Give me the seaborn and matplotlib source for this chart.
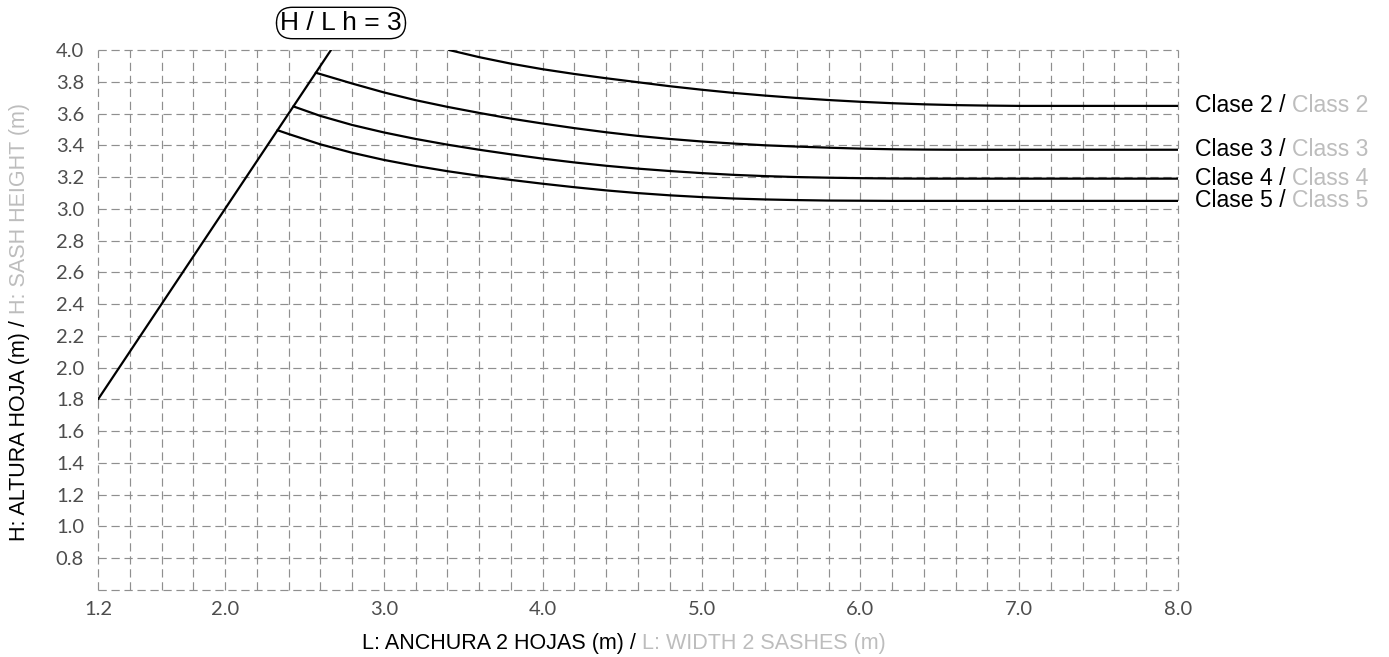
import numpy as np
import pandas as pd
import matplotlib
matplotlib.use("Agg")
import matplotlib.pyplot as plt
from matplotlib.ticker import FixedLocator, FuncFormatter
import seaborn as sns

# --- data -----------------------------------------------------------------
# H/Lh = 3 limit line
limit_L = [1.2, 2.667]
limit_H = [1.8, 4.0]

clase2_L = [3.41, 3.6, 3.8, 4.0, 4.2, 4.4, 4.6, 4.8, 5.0, 5.2, 5.4, 5.6, 5.8,
            6.0, 6.2, 6.4, 6.6, 6.8, 7.0, 8.0]
clase2_H = [4.0, 3.955, 3.914, 3.879, 3.849, 3.822, 3.797, 3.772, 3.750, 3.730,
            3.713, 3.698, 3.685, 3.674, 3.665, 3.658, 3.653, 3.650, 3.648, 3.648]

clase3_L = [2.571, 2.8, 3.0, 3.2, 3.4, 3.6, 3.8, 4.0, 4.2, 4.4, 4.6, 4.8, 5.0,
            5.2, 5.4, 5.6, 5.8, 6.0, 6.2, 6.4, 6.6, 7.0, 8.0]
clase3_H = [3.857, 3.789, 3.733, 3.684, 3.642, 3.604, 3.568, 3.537, 3.508, 3.482,
            3.459, 3.440, 3.424, 3.411, 3.400, 3.392, 3.385, 3.379, 3.375, 3.373,
            3.372, 3.372, 3.372]

clase4_L = [2.43, 2.6, 2.8, 3.0, 3.2, 3.4, 3.6, 3.8, 4.0, 4.2, 4.4, 4.6, 4.8,
            5.0, 5.2, 5.4, 5.6, 5.8, 6.0, 6.2, 6.4, 7.0, 8.0]
clase4_H = [3.645, 3.585, 3.528, 3.481, 3.440, 3.404, 3.372, 3.343, 3.316, 3.292,
            3.271, 3.253, 3.238, 3.225, 3.214, 3.206, 3.200, 3.196, 3.193, 3.191,
            3.19, 3.19, 3.19]

clase5_L = [2.33, 2.4, 2.6, 2.8, 3.0, 3.2, 3.4, 3.6, 3.8, 4.0, 4.2, 4.4, 4.6,
            4.8, 5.0, 5.2, 5.4, 5.6, 5.8, 6.0, 6.2, 7.0, 8.0]
clase5_H = [3.495, 3.471, 3.406, 3.353, 3.308, 3.270, 3.237, 3.208, 3.182, 3.158,
            3.136, 3.116, 3.099, 3.085, 3.074, 3.065, 3.059, 3.055, 3.052, 3.051,
            3.05, 3.05, 3.05]

curve_names = ["Clase 2", "Clase 3", "Clase 4", "Clase 5"]
curve_names_en = ["Class 2", "Class 3", "Class 4", "Class 5"]

x_tick_labels = [1.2, 2.0, 3.0, 4.0, 5.0, 6.0, 7.0, 8.0]
y_tick_labels = [0.8, 1.0, 1.2, 1.4, 1.6, 1.8, 2.0, 2.2, 2.4, 2.6, 2.8, 3.0,
                 3.2, 3.4, 3.6, 3.8, 4.0]

# --- long table --------------------------------------------------------------
series = {
    "limite": (limit_L, limit_H),
    "Clase 2": (clase2_L, clase2_H),
    "Clase 3": (clase3_L, clase3_H),
    "Clase 4": (clase4_L, clase4_H),
    "Clase 5": (clase5_L, clase5_H),
}
df = pd.concat(
    [pd.DataFrame({"L": l, "H": h, "serie": k}) for k, (l, h) in series.items()],
    ignore_index=True,
)

# --- figure ------------------------------------------------------------------
sns.set_theme(style="white")
plt.rcParams["font.family"] = ["Liberation Sans", "DejaVu Sans"]

fig = plt.figure(figsize=(13.89, 6.57), dpi=100)
W, Hpx = 1389, 657
ax = fig.add_axes([98 / W, 1 - 590 / Hpx, 1080 / W, 540 / Hpx])

ax.set_xlim(1.2, 8.0)
ax.set_ylim(0.6, 4.0)

# dashed grid every 0.2 in both directions (edges included, acting as frame)
grid_x = np.round(np.arange(1.2, 8.0001, 0.2), 2)
grid_y = np.round(np.arange(0.6, 4.0001, 0.2), 2)
grid_kw = dict(color="#8f8f8f", lw=0.85, ls=(0, (7, 4)), clip_on=False, zorder=1)
for gx in grid_x:
    ax.axvline(gx, **grid_kw)
for gy in grid_y:
    ax.axhline(gy, **grid_kw)

sns.lineplot(data=df, x="L", y="H", units="serie", estimator=None, sort=False,
             color="black", lw=1.6, ax=ax, legend=False, zorder=3)

ax.xaxis.set_major_locator(FixedLocator(x_tick_labels))
ax.yaxis.set_major_locator(FixedLocator(y_tick_labels))
fmt = FuncFormatter(lambda v, p: f"{v:.1f}")
ax.xaxis.set_major_formatter(fmt)
ax.yaxis.set_major_formatter(fmt)
ax.grid(False)
for s in ax.spines.values():
    s.set_visible(False)

ax.tick_params(which="both", length=0)
ax.tick_params(axis="x", pad=8, labelsize=14.5, labelcolor="#4d4d4d")
ax.tick_params(axis="y", pad=10, labelsize=14.5, labelcolor="#4d4d4d")
for lab in ax.get_xticklabels() + ax.get_yticklabels():
    lab.set_fontfamily(["Lato", "DejaVu Sans"])
ax.set_xlabel("")
ax.set_ylabel("")

GRAY = "#bdbdbd"

# class labels at the right end of each curve
ends = [clase2_H[-1], clase3_H[-1], clase4_H[-1], clase5_H[-1]]
for name, name_en, yv in zip(curve_names, curve_names_en, ends):
    t1 = ax.annotate(f"{name} / ", xy=(8.0, yv), xytext=(12, 0),
                     textcoords="offset points", ha="left", va="center",
                     fontsize=16.6, color="black", annotation_clip=False)
    ax.annotate(name_en, xy=(1, 0.5), xycoords=t1, ha="left", va="center",
                fontsize=16.6, color=GRAY)


def two_tone(center_px, first, second, size, vertical=False):
    """Axis title made of a black part followed by a grey part, centred."""
    renderer = fig.canvas.get_renderer()
    rot = 90 if vertical else 0
    probe1 = fig.text(0, 0, first, fontsize=size, rotation=rot)
    probe2 = fig.text(0, 0, second, fontsize=size, rotation=rot)
    e1 = probe1.get_window_extent(renderer)
    e2 = probe2.get_window_extent(renderer)
    probe1.remove()
    probe2.remove()
    cx, cy = center_px
    if vertical:
        total = e1.height + e2.height
        start = (Hpx - cy) - total / 2          # bottom, in display px
        split = start + e1.height
        fig.text(cx / W, split / Hpx, first, rotation=90, ha="center",
                 va="top", fontsize=size, color="black")
        fig.text(cx / W, split / Hpx, second, rotation=90, ha="center",
                 va="bottom", fontsize=size, color=GRAY)
    else:
        total = e1.width + e2.width
        start = cx - total / 2
        split = start + e1.width
        fig.text(split / W, 1 - cy / Hpx, first, ha="right", va="center",
                 fontsize=size, color="black")
        fig.text(split / W, 1 - cy / Hpx, second, ha="left", va="center",
                 fontsize=size, color=GRAY)


two_tone((624, 644), "L: ANCHURA 2 HOJAS (m) / ", "L: WIDTH 2 SASHES (m)", 15.5)
two_tone((20, 322), "H: ALTURA HOJA (m) / ", "H: SASH HEIGHT (m)", 15.5,
         vertical=True)

# limit line tag
fig.text(341 / W, 1 - 23 / Hpx, "H / L h = 3", ha="center", va="center",
         fontsize=19, color="black",
         bbox=dict(boxstyle="round,pad=0.14,rounding_size=0.6", fc="white",
                   ec="black", lw=1.0))

fig.savefig("out.png", dpi=100)
